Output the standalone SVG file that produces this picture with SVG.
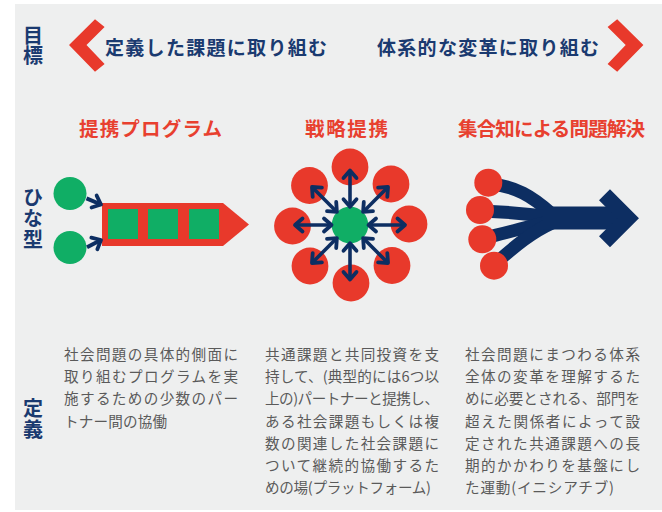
<svg xmlns="http://www.w3.org/2000/svg" width="662" height="512" viewBox="0 0 662 512">
<style>
.lab{font-family:"Noto Sans CJK JP","Noto Sans",sans-serif;font-weight:700;font-size:20px;fill:#1a3a70;writing-mode:vertical-rl}
.top{font-family:"Noto Sans CJK JP","Noto Sans",sans-serif;font-weight:700;font-size:19px;fill:#1a3a70}
.hd{font-family:"Noto Sans CJK JP","Noto Sans",sans-serif;font-weight:700;font-size:19.5px;fill:#e8402f}
.body{font-family:"Noto Sans CJK JP","Noto Sans",sans-serif;font-weight:400;font-size:14.6px;fill:#5a5a5a}
.red{fill:#e8392b}
.grn{fill:#10ae65}
.ar{fill:none;stroke:#0d2e62;stroke-width:4;marker-end:url(#ah)}
.dar{fill:none;stroke:#0d2e62;stroke-width:3.6;marker-end:url(#ah);marker-start:url(#ah)}
.str{fill:none;stroke:#0d2e62;stroke-width:13}
</style>
<defs>
<marker id="ah" markerUnits="userSpaceOnUse" orient="auto-start-reverse" overflow="visible" markerWidth="1" markerHeight="1" refX="0" refY="0">
<path d="M-7.5,-6.5 L0,0 L-7.5,6.5" fill="none" stroke="#0d2e62" stroke-width="3.8" stroke-linecap="round" stroke-linejoin="round"/>
</marker>
</defs>
<rect x="15" y="4" width="647" height="506" fill="#eeefef"/>

<g id="goal-label">
<text class="lab" x="33" y="25">目標</text>
</g>
<g id="goal-left">
<polygon class="red" points="69,45 95,19.3 104.6,27 86.5,45 104.6,64 95,71.7"/>
<text class="top" x="105" y="54.5" textLength="222" lengthAdjust="spacing">定義した課題に取り組む</text>
</g>
<g id="goal-right">
<text class="top" x="377" y="54.5" textLength="222" lengthAdjust="spacing">体系的な変革に取り組む</text>
<polygon class="red" points="643.4,45 617.2,19.3 607.6,27 625.7,45 607.6,64 617.2,71.7"/>
</g>

<g id="type-label">
<text class="lab" x="33" y="187.5" letter-spacing="1">ひな型</text>
</g>

<g id="program">
<text class="hd" x="79" y="136" textLength="143" lengthAdjust="spacing">提携プログラム</text>
<circle class="grn" cx="70" cy="193.5" r="16.5"/>
<circle class="grn" cx="70" cy="247.5" r="16.5"/>
<polygon class="red" points="102,203 223,203 249,224.5 223,246 102,246"/>
<rect class="grn" x="108" y="209" width="30" height="30"/>
<rect class="grn" x="148" y="209" width="30" height="30"/>
<rect class="grn" x="189" y="209" width="30" height="30"/>
</g>

<g id="alliance">
<text class="hd" x="305" y="136" textLength="83" lengthAdjust="spacing">戦略提携</text>
<circle class="red" cx="350" cy="167" r="18.4"/>
<circle class="red" cx="391" cy="184" r="18.4"/>
<circle class="red" cx="409" cy="224" r="18.4"/>
<circle class="red" cx="392" cy="265.5" r="18.4"/>
<circle class="red" cx="351" cy="283" r="18.4"/>
<circle class="red" cx="310" cy="266" r="18.4"/>
<circle class="red" cx="292.5" cy="226" r="18.4"/>
<circle class="red" cx="309.5" cy="185.5" r="18.4"/>
<circle class="grn" cx="350" cy="225" r="18.3"/>
</g>

<g id="collective">
<text class="hd" x="458" y="136" textLength="187" lengthAdjust="spacing">集合知による問題解決</text>
<path class="str" d="M490,184 C515,186 532,196 552,214"/>
<path class="str" d="M482,211 C510,212 530,214 552,217"/>
<path class="str" d="M484,238 C510,232 530,226 552,221"/>
<path class="str" d="M496,263 C515,246 532,232 552,223"/>
<path d="M543,218 L626,218" fill="none" stroke="#0d2e62" stroke-width="23"/>
<polyline points="604.5,194.7 628,218.2 604.5,241.7" fill="none" stroke="#0d2e62" stroke-width="15.5" stroke-linejoin="miter"/>
<circle class="red" cx="488.3" cy="182.7" r="14"/>
<circle class="red" cx="480" cy="210" r="14"/>
<circle class="red" cx="482.3" cy="239.3" r="14"/>
<circle class="red" cx="494" cy="265.7" r="14"/>
</g>

<g id="connectors">
<line class="ar" x1="86.5" y1="198.3" x2="101" y2="204.5"/>
<line class="ar" x1="87" y1="247.3" x2="101" y2="240"/>
<line class="dar" x1="350" y1="206.7" x2="350" y2="170.5"/>
<line class="dar" x1="363.1" y1="211.9" x2="388" y2="187"/>
<line class="dar" x1="368.5" y1="225" x2="405" y2="225"/>
<line class="dar" x1="363.1" y1="238.1" x2="388" y2="263"/>
<line class="dar" x1="350" y1="243.3" x2="350" y2="279.5"/>
<line class="dar" x1="336.9" y1="238.1" x2="312" y2="263"/>
<line class="dar" x1="331.5" y1="225" x2="295" y2="225"/>
<line class="dar" x1="336.9" y1="211.9" x2="312" y2="187"/>
</g>

<g id="def-label">
<text class="lab" x="33" y="398.5" letter-spacing="0.5">定義</text>
</g>

<g id="def-program">
<text class="body" x="64" y="360" textLength="174" lengthAdjust="spacing">社会問題の具体的側面に</text>
<text class="body" x="64" y="382.2" textLength="174" lengthAdjust="spacing">取り組むプログラムを実</text>
<text class="body" x="64" y="404.4" textLength="174" lengthAdjust="spacing">施するための少数のパー</text>
<text class="body" x="64" y="426.6" textLength="103" lengthAdjust="spacing">トナー間の協働</text>
</g>
<g id="def-alliance">
<text class="body" x="265" y="360" textLength="174" lengthAdjust="spacing">共通課題と共同投資を支</text>
<text class="body" x="265" y="382.2" textLength="174" lengthAdjust="spacing">持して、(典型的には6つ以</text>
<text class="body" x="265" y="404.4" textLength="174" lengthAdjust="spacing">上の)パートナーと提携し、</text>
<text class="body" x="265" y="426.6" textLength="174" lengthAdjust="spacing">ある社会課題もしくは複</text>
<text class="body" x="265" y="448.8" textLength="174" lengthAdjust="spacing">数の関連した社会課題に</text>
<text class="body" x="265" y="471" textLength="174" lengthAdjust="spacing">ついて継続的協働するた</text>
<text class="body" x="265" y="493.2" textLength="166" lengthAdjust="spacing">めの場(プラットフォーム)</text>
</g>
<g id="def-collective">
<text class="body" x="465" y="360" textLength="175" lengthAdjust="spacing">社会問題にまつわる体系</text>
<text class="body" x="465" y="382.2" textLength="175" lengthAdjust="spacing">全体の変革を理解するた</text>
<text class="body" x="465" y="404.4" textLength="175" lengthAdjust="spacing">めに必要とされる、部門を</text>
<text class="body" x="465" y="426.6" textLength="175" lengthAdjust="spacing">超えた関係者によって設</text>
<text class="body" x="465" y="448.8" textLength="175" lengthAdjust="spacing">定された共通課題への長</text>
<text class="body" x="465" y="471" textLength="175" lengthAdjust="spacing">期的かかわりを基盤にし</text>
<text class="body" x="465" y="493.2" textLength="149" lengthAdjust="spacing">た運動(イニシアチブ)</text>
</g>
</svg>
